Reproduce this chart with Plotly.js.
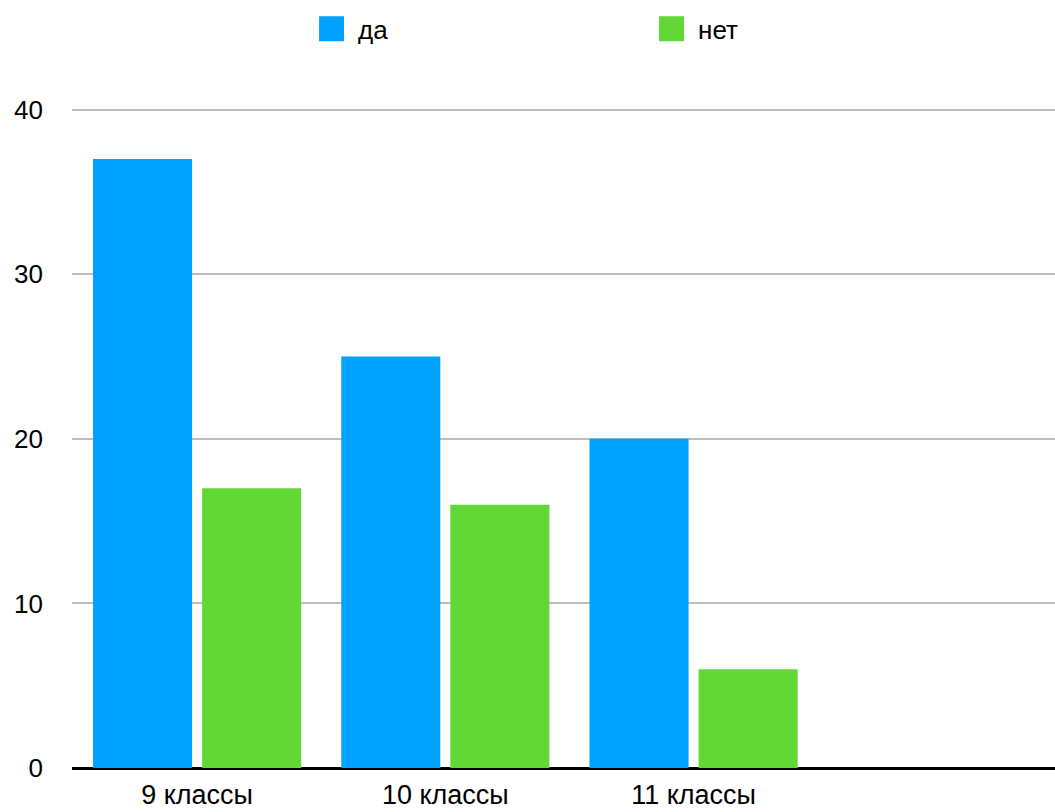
<!DOCTYPE html>
<html>
<head>
<meta charset="utf-8">
<script src="https://cdn.plot.ly/plotly-3.0.1.min.js"></script>
<style>html,body{margin:0;padding:0;background:#fff;}</style>
</head>
<body>
<div id="chart" style="width:1055px;height:812px;"></div>
<script>
const categories = ["9 классы", "10 классы", "11 классы"];
const seriesNames = ["да", "нет"];
const yesValues = [37, 25, 20];
const noValues = [17, 16, 6];
const yTicks = [0, 10, 20, 30, 40];

const fontFamily = "'Liberation Sans', Arial, Helvetica, sans-serif";

const traces = [
  { type: "bar", name: seriesNames[0], x: categories, y: yesValues,
    marker: { color: "#00A2FF", line: { width: 0 } }, hoverinfo: "skip" },
  { type: "bar", name: seriesNames[1], x: categories, y: noValues,
    marker: { color: "#61D836", line: { width: 0 } }, hoverinfo: "skip" }
];

const layout = {
  width: 1055, height: 812,
  margin: { l: 72, r: 0, t: 108, b: 44, pad: 0 },
  paper_bgcolor: "#fff", plot_bgcolor: "#fff",
  font: { family: fontFamily, size: 26, color: "#000" },
  barmode: "group", bargap: 0.121, bargroupgap: 0.092,
  showlegend: true,
  legend: {
    orientation: "h", x: 0.2503, xanchor: "left", y: 1.1555, yanchor: "top",
    font: { family: fontFamily, size: 26, color: "#000" },
    entrywidth: 295, entrywidthmode: "pixels",
    bgcolor: "rgba(0,0,0,0)", borderwidth: 0, traceorder: "normal"
  },
  xaxis: {
    type: "category", range: [-0.504, 3.456], showgrid: false, zeroline: false,
    showline: false, ticks: "", ticklabelstandoff: 8,
    tickfont: { family: fontFamily, size: 27, color: "#000" },
    fixedrange: true
  },
  yaxis: {
    range: [0, 40.1], tickmode: "array", tickvals: yTicks, ticktext: yTicks.map(String),
    showgrid: true, gridcolor: "#BDBDBD", gridwidth: 2,
    zeroline: true, zerolinecolor: "#000", zerolinewidth: 3,
    showline: false, ticks: "", ticklabelstandoff: 28,
    tickfont: { family: fontFamily, size: 26, color: "#000" }, fixedrange: true
  }
};

Plotly.newPlot("chart", traces, layout, { displayModeBar: false, staticPlot: true }).then(function () {
  document.querySelectorAll(".legend .legendpoints path").forEach(function (p) {
    p.setAttribute("transform", "translate(13.5,0) scale(2.08)");
  });
});
</script>
</body>
</html>
